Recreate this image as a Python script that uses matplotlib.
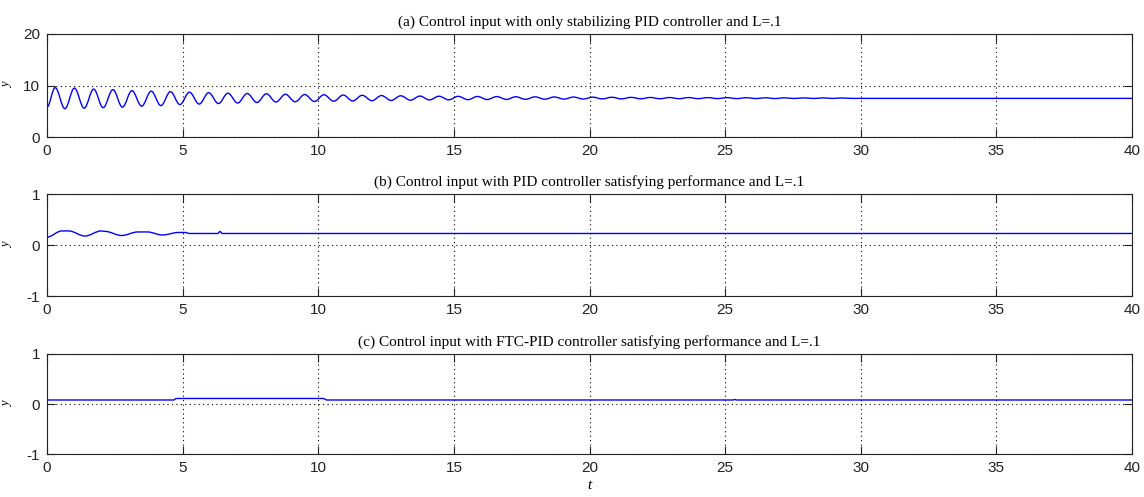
import matplotlib
matplotlib.use("Agg")
import matplotlib.pyplot as plt
from matplotlib.path import Path
from matplotlib.patches import PathPatch

# panel (a): start, then alternating peaks / troughs
t_a = [0.0, 0.30, 0.66, 1.01, 1.37, 1.72, 2.07, 2.43, 2.78, 3.13, 3.49, 3.84, 4.20,
       4.55, 4.90, 5.25, 5.61, 5.96, 6.32, 6.67, 7.03, 7.38, 7.74, 8.09, 8.44, 8.79,
       9.15, 9.50, 9.86, 10.21, 10.57, 10.92, 11.27, 11.62, 11.98, 12.33, 12.69, 13.04,
       13.40, 13.75, 14.10, 14.45, 14.81, 15.16, 15.52, 15.87, 16.23, 16.58, 16.94,
       17.28, 17.64, 17.99, 18.35, 18.70, 19.06, 19.41, 19.77, 20.12, 20.47, 20.82,
       21.18, 21.53, 21.89, 22.24, 22.60, 22.95, 23.30, 23.65, 24.01, 24.36, 24.72,
       25.07, 25.43, 25.78, 26.14, 26.48, 26.84, 27.19, 27.55, 27.90, 28.26, 28.61,
       28.97, 29.31, 29.67, 40.0]
y_a = [5.8, 9.6, 5.5, 9.5, 5.6, 9.3, 5.7, 9.2, 5.8, 9.0, 6.0, 8.9, 6.1,
       8.8, 6.3, 8.7, 6.4, 8.6, 6.5, 8.5, 6.6, 8.45, 6.7, 8.4, 6.8, 8.3,
       6.85, 8.25, 6.9, 8.2, 6.95, 8.15, 7.0, 8.1, 7.05, 8.05, 7.1, 8.0,
       7.15, 7.95, 7.2, 7.92, 7.22, 7.9, 7.25, 7.87, 7.28, 7.85, 7.3,
       7.82, 7.32, 7.8, 7.34, 7.78, 7.36, 7.76, 7.38, 7.74, 7.4, 7.72,
       7.41, 7.7, 7.42, 7.68, 7.43, 7.67, 7.44, 7.66, 7.45, 7.65, 7.46,
       7.64, 7.46, 7.63, 7.47, 7.62, 7.47, 7.61, 7.48, 7.6, 7.48, 7.6,
       7.49, 7.58, 7.5, 7.5]

# panel (b)
t_b = [0.0, 0.55, 0.80, 1.40, 2.00, 2.15, 2.75, 3.35, 3.70, 4.25, 4.85,
       5.10, 5.25, 6.30, 6.38, 6.46, 40.0]
y_b = [0.16, 0.28, 0.28, 0.18, 0.28, 0.27, 0.19, 0.26, 0.26, 0.20, 0.25,
       0.25, 0.23, 0.23, 0.27, 0.23, 0.23]

# panel (c)
t_c = [0.0, 4.68, 4.75, 10.2, 10.3, 25.3, 25.36, 25.42, 40.0]
y_c = [0.08, 0.08, 0.11, 0.11, 0.08, 0.08, 0.09, 0.08, 0.08]

titles = [
    "(a) Control input with only stabilizing PID controller and L=.1",
    "(b) Control input with PID controller satisfying performance and L=.1",
    "(c) Control input with FTC-PID controller satisfying performance and L=.1",
]
x_ticks = [0, 5, 10, 15, 20, 25, 30, 35, 40]
y_ticks_a = [0, 10, 20]
y_ticks_bc = [-1, 0, 1]


def smooth_curve(ax, t, y, **kw):
    # draw through the read extrema with flat tangents (rounded peaks)
    verts = [(t[0], y[0])]
    codes = [Path.MOVETO]
    for k in range(1, len(t)):
        d = t[k] - t[k - 1]
        verts += [(t[k - 1] + 0.36 * d, y[k - 1]), (t[k] - 0.36 * d, y[k]), (t[k], y[k])]
        codes += [Path.CURVE4] * 3
    ax.add_patch(PathPatch(Path(verts, codes), fill=False, **kw))


plt.rcParams['axes.unicode_minus'] = False

fig = plt.figure(figsize=(11.44, 4.97), dpi=100)

boxes = [
    [0.0411, 0.7243, 0.9484, 0.2073],
    [0.0411, 0.4044, 0.9484, 0.2046],
    [0.0411, 0.0859, 0.9484, 0.2024],
]
series = [(t_a, y_a, (0, 20), y_ticks_a, True),
          (t_b, y_b, (-1, 1), y_ticks_bc, True),
          (t_c, y_c, (-1, 1), y_ticks_bc, False)]

for i, (box, (t, y, ylim, yt, smooth)) in enumerate(zip(boxes, series)):
    ax = fig.add_axes(box)
    if smooth:
        smooth_curve(ax, t, y, edgecolor='#0000ff', lw=1.0)
    else:
        ax.plot(t, y, color='#0000ff', lw=1.0)
    ax.set_xlim(0, 40)
    ax.set_ylim(*ylim)
    ax.set_xticks(x_ticks)
    ax.set_yticks(yt)
    ax.grid(True, color='black', linestyle=(0, (1, 3)), lw=0.8)
    ax.tick_params(direction='in', top=True, right=True, length=6, width=0.8,
                   labelsize=11, pad=5, colors='#222222')
    for lab in ax.get_xticklabels() + ax.get_yticklabels():
        lab.set_family('Liberation Sans')
    for sp in ax.spines.values():
        sp.set_linewidth(0.8)
        sp.set_color('#222222')
    ax.set_title(titles[i], family='Liberation Serif', fontsize=11, pad=6)
    ax.set_ylabel('y', family='Liberation Serif', style='italic', fontsize=9)
    ax.yaxis.set_label_coords(-0.031, 0.5)
    if i == 2:
        ax.set_xlabel('t', family='Liberation Serif', style='italic', fontsize=11,
                      labelpad=3)

fig.savefig('out.png', dpi=100)
